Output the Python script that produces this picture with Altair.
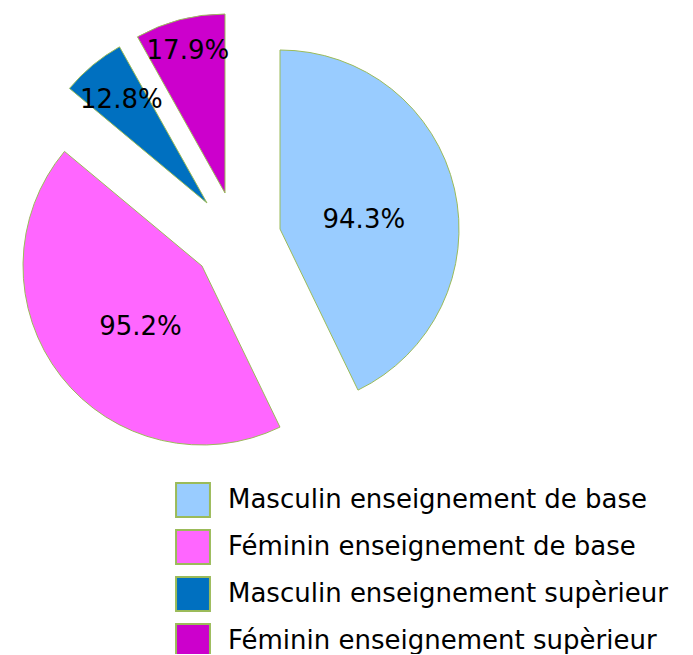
import altair as alt
import pandas as pd

categories = [
    "Masculin enseignement de base",
    "Féminin enseignement de base",
    "Masculin enseignement supèrieur",
    "Féminin enseignement supèrieur",
]
values = [94.3, 95.2, 12.8, 17.9]
labels = ["94.3%", "95.2%", "12.8%", "17.9%"]
colors = ["#99CCFF", "#FF66FF", "#0070C0", "#CC00CC"]

# style: per-slice centre (exploded), label radius and nudges, in pixels
centres = [(272, 221), (194, 258), (199, 195), (217, 185)]
label_radius = [86, 87, 134, 147]
label_nudge = [(0, 10), (7, 7), (0, 0), (0, 0)]

total = sum(values)
df = pd.DataFrame({"cat": categories, "value": values, "label": labels,
                   "idx": list(range(len(values)))})

base = alt.Chart(df).transform_window(
    end="sum(value)", sort=[alt.SortField("idx")], frame=[None, 0]
).transform_calculate(
    start="datum.end - datum.value", mid="datum.end - datum.value/2"
)

theta_scale = alt.Scale(domain=[0, total])
color_enc = alt.Color(
    "cat:N",
    scale=alt.Scale(domain=categories, range=colors),
    legend=alt.Legend(
        title=None, orient="none", legendX=167, legendY=474,
        symbolType="square", symbolSize=1150, symbolStrokeColor="#9BBB59",
        symbolStrokeWidth=2, labelFont="DejaVu Sans", labelFontSize=26,
        labelColor="#000000", labelOffset=17, rowPadding=5, padding=0,
        labelLimit=600,
    ),
)

layers = []
for i, c in enumerate(categories):
    cx, cy = centres[i]
    sub = base.transform_filter(alt.datum.cat == c)
    arc = sub.mark_arc(outerRadius=179, stroke="#9BBB59", strokeWidth=1).encode(
        theta=alt.Theta("start:Q", scale=theta_scale),
        theta2="end:Q",
        color=color_enc,
        x=alt.value(cx),
        y=alt.value(cy),
    )
    dx, dy = label_nudge[i]
    txt = sub.mark_text(font="DejaVu Sans", fontSize=26, color="#000000",
                        dx=dx, dy=dy, align="center", baseline="middle").encode(
        theta=alt.Theta("mid:Q", scale=theta_scale),
        radius=alt.value(label_radius[i]),
        text="label:N",
        x=alt.value(cx),
        y=alt.value(cy),
    )
    layers += [arc, txt]

chart = alt.layer(*layers).properties(
    width=677, height=646, padding=0, autosize=alt.AutoSizeParams(type="none")
).configure_view(stroke=None)

chart.save("out.html", embed_options={"renderer": "svg", "actions": False})
